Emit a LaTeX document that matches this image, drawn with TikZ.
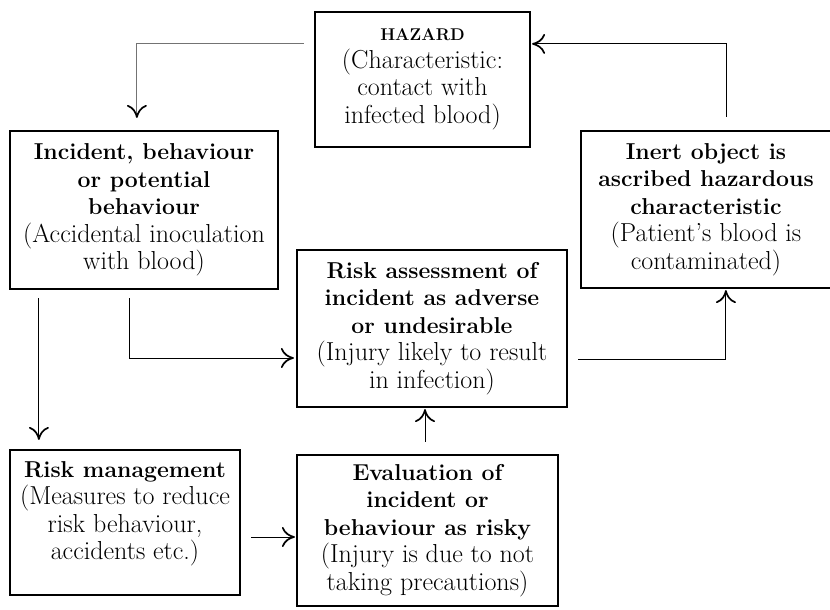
\documentclass[tikz,border=0pt]{standalone}
\usetikzlibrary{arrows.meta,positioning,calc}
\newcommand\hd[1]{{\fontsize{23}{27.5}\selectfont\bfseries #1}}
\begin{document}
\begin{tikzpicture}[
  x=1pt,y=-1pt,
  >={Computer Modern Rightarrow[length=13pt,width=20pt,line width=1.7pt]},
  cbox/.style={draw,line width=2.2pt,align=center,inner sep=2pt,
    font=\fontsize{26}{27.5}\selectfont},
  flow/.style={->,line width=1pt},
  gflow/.style={line width=1pt,draw=black!55,
    -{Computer Modern Rightarrow[length=13pt,width=20pt,line width=1.7pt,color=black]}}
]
\useasboundingbox (0,0) rectangle (830,610);
% boxes, placed at their centres in pixel units
\node[cbox,minimum width=215pt,minimum height=135pt] (hazard) at (422.5,79.5)
  {{\fontsize{17}{22}\selectfont\textbf{HAZARD}}\\(Characteristic:\\contact with\\infected blood)};
\node[cbox,minimum width=268pt,minimum height=158pt] (incident) at (144,210)
  {\hd{Incident, behaviour}\\\hd{or potential}\\\hd{behaviour}\\(Accidental inoculation\\with blood)};
\node[cbox,minimum width=250pt,minimum height=157pt] (inert) at (706,209.5)
  {\hd{Inert object is}\\\hd{ascribed hazardous}\\\hd{characteristic}\\(Patient's blood is\\contaminated)};
\node[cbox,minimum width=270pt,minimum height=157pt] (assess) at (432,328.5)
  {\hd{Risk assessment of}\\\hd{incident as adverse}\\\hd{or undesirable}\\(Injury likely to result\\in infection)};
\node[cbox,minimum width=230pt,minimum height=145pt] (manage) at (125,522.5)
  {\hd{Risk management}\\(Measures to reduce\\risk behaviour,\\accidents etc.)\\[-4pt]};
\node[cbox,minimum width=261pt,minimum height=151pt] (evalu) at (427.5,530.5)
  {\hd{Evaluation of}\\\hd{incident or}\\\hd{behaviour as risky}\\(Injury is due to not\\taking precautions)};
% connectors
\draw[gflow,shorten <=10pt,shorten >=12pt] ([yshift=-33pt]hazard.north west)
  -| ([xshift=128pt]incident.north west);
\draw[flow,shorten <=13pt,shorten >=1pt] ([xshift=147pt]inert.north west)
  |- ([yshift=-33pt]hazard.north east);
\draw[flow,shorten <=8pt,shorten >=9pt] ([xshift=30pt]incident.south west)
  -- ([xshift=30pt]manage.north west);
\draw[flow,shorten <=8pt,shorten >=2pt] ([xshift=121pt]incident.south west)
  |- ([yshift=-29.5pt]assess.west);
\draw[flow,shorten <=10pt,shorten >=1pt] ([yshift=-30.5pt]assess.east)
  -| ([xshift=146pt]inert.south west);
\draw[flow,shorten <=12pt,shorten >=1pt] ([xshift=-2.5pt]evalu.north)
  -- ([xshift=-2.5pt]evalu.north |- assess.south);
\draw[flow,shorten <=10pt,shorten >=1pt] ([yshift=-14.5pt]manage.east)
  -- ([yshift=-14.5pt]manage.east -| evalu.west);
\end{tikzpicture}
\end{document}
